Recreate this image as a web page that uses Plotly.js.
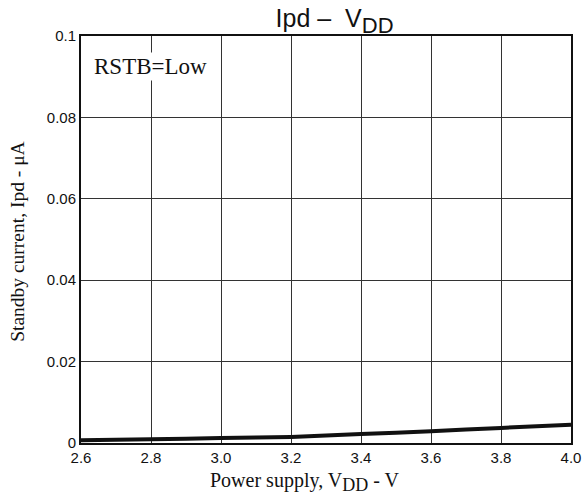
<!DOCTYPE html>
<html>
<head>
<meta charset="utf-8">
<script src="https://cdn.plot.ly/plotly-3.0.1.min.js"></script>
<style>html,body{margin:0;padding:0;background:#fff}#chart{width:587px;height:497px}</style>
</head>
<body>
<div id="chart"></div>
<script>
const supplyVoltage = [2.6, 2.8, 3.0, 3.2, 3.4, 3.6, 3.8, 4.0];
const standbyCurrent = [0.0007, 0.0009, 0.0012, 0.0015, 0.0022, 0.0029, 0.0037, 0.0045];
const xTicks = [2.6, 2.8, 3.0, 3.2, 3.4, 3.6, 3.8, 4.0];
const xTickLabels = ["2.6", "2.8", "3.0", "3.2", "3.4", "3.6", "3.8", "4.0"];
const yTicks = [0, 0.02, 0.04, 0.06, 0.08, 0.1];
const yTickLabels = ["0", "0.02", "0.04", "0.06", "0.08", "0.1"];

const sans = "Liberation Sans, Arial, sans-serif";
const serif = "Liberation Serif, Times New Roman, serif";

const trace = {
  x: supplyVoltage, y: standbyCurrent, type: "scatter", mode: "lines",
  line: {color: "#111", width: 4, shape: "spline", smoothing: 0.4},
  hoverinfo: "skip"
};

const layout = {
  width: 587, height: 497,
  margin: {l: 81, r: 16, t: 36, b: 54},
  paper_bgcolor: "#fff", plot_bgcolor: "#fff",
  showlegend: false,
  title: {
    text: "Ipd –  V<sub><span style='font-size:22px'>DD</span></sub>",
    font: {family: sans, size: 25, color: "#111"},
    x: 0.57, xanchor: "center", y: 0.98, yanchor: "top"
  },
  xaxis: {
    range: [2.6, 4.0], tickmode: "array", tickvals: xTicks, ticktext: xTickLabels,
    showgrid: true, gridcolor: "#333", gridwidth: 1,
    showline: true, linecolor: "#111", linewidth: 2, mirror: true,
    zeroline: false, ticks: "", tickfont: {family: sans, size: 15, color: "#111"}
  },
  yaxis: {
    range: [0, 0.1], tickmode: "array", tickvals: yTicks, ticktext: yTickLabels,
    showgrid: true, gridcolor: "#333", gridwidth: 1,
    showline: true, linecolor: "#111", linewidth: 2, mirror: true,
    zeroline: false, ticks: "", tickfont: {family: sans, size: 15, color: "#111"}
  },
  annotations: [
    {
      x: 2.63, y: 0.0925, xref: "x", yref: "y", xanchor: "left", yanchor: "middle",
      text: "RSTB=Low", showarrow: false, bgcolor: "#fff",
      font: {family: serif, size: 23, color: "#111"}
    },
    {
      x: 0.457, y: -0.095, xref: "paper", yref: "paper", xanchor: "center", yanchor: "middle",
      text: "Power supply, V<sub><span style='font-size:18px'>DD</span></sub> - V", showarrow: false,
      font: {family: serif, size: 20, color: "#111"}
    },
    {
      x: -0.13, y: 0.495, xref: "paper", yref: "paper", xanchor: "center", yanchor: "middle",
      text: "Standby current, Ipd - μA", showarrow: false, textangle: -90,
      font: {family: serif, size: 19.5, color: "#111"}
    }
  ]
};

Plotly.newPlot("chart", [trace], layout, {displayModeBar: false, staticPlot: true});
</script>
</body>
</html>
